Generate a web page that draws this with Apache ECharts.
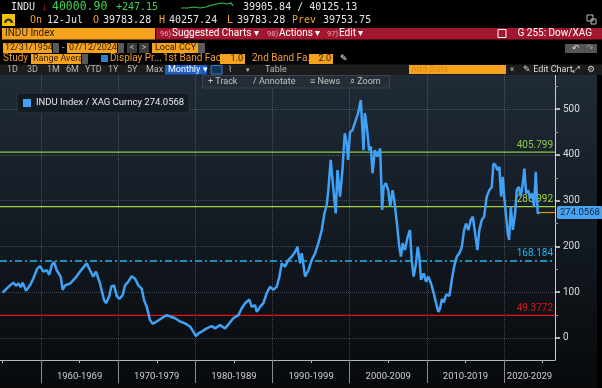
<!DOCTYPE html>
<html><head><meta charset="utf-8">
<script src="https://cdn.jsdelivr.net/npm/echarts@6/dist/echarts.min.js"></script>
<style>html,body{margin:0;padding:0;background:#000;}#c{width:602px;height:388px;}</style>
</head><body><div id="c"></div>
<script>
// ---- data ----
const dates = [1955.04,1955.55,1955.99,1956.42,1956.76,1957.07,1957.37,1957.63,1958.06,1958.58,1959.01,1959.53,1959.87,1960.31,1960.74,1961.08,1961.39,1961.69,1962.03,1962.55,1962.81,1963.11,1963.76,1964.41,1965.06,1965.92,1966.35,1966.78,1967.13,1967.65,1968.17,1968.43,1968.86,1969.1,1969.46,1969.81,1970.15,1970.59,1970.89,1971.32,1971.75,1972.18,1972.61,1973.05,1973.35,1973.7,1974.13,1974.48,1975.0,1975.64,1976.29,1976.72,1977.37,1978.01,1978.66,1979.31,1979.74,1980.09,1980.39,1980.83,1981.47,1982.12,1982.55,1983.2,1983.85,1984.4,1984.92,1985.57,1986.01,1986.44,1987.0,1987.31,1987.74,1987.96,1988.39,1988.82,1989.25,1989.68,1990.11,1990.55,1990.89,1991.19,1991.62,1992.05,1992.49,1992.92,1993.22,1993.57,1993.79,1994.22,1994.65,1995.08,1995.51,1995.94,1996.38,1996.72,1997.02,1997.23,1997.54,1997.89,1998.19,1998.41,1998.75,1999.06,1999.36,1999.62,1999.79,2000.05,2000.36,2000.79,2001.09,2001.44,2001.66,2001.79,2001.96,2002.22,2002.52,2002.74,2002.96,2003.26,2003.61,2003.95,2004.2,2004.39,2004.69,2004.99,2005.25,2005.56,2005.77,2006.12,2006.42,2006.64,2006.86,2007.16,2007.51,2007.81,2008.03,2008.29,2008.59,2008.81,2009.02,2009.24,2009.59,2009.89,2010.19,2010.54,2010.89,2011.19,2011.49,2011.71,2011.95,2012.2,2012.5,2012.92,2013.23,2013.53,2013.88,2014.21,2014.53,2014.82,2015.08,2015.38,2015.69,2015.95,2016.25,2016.54,2016.8,2017.11,2017.41,2017.76,2018.1,2018.41,2018.62,2018.88,2019.14,2019.39,2019.61,2019.83,2020.04,2020.26,2020.48,2020.65,2020.87,2021.13,2021.43,2021.65,2021.91,2022.17,2022.43,2022.63,2022.85,2023.11,2023.37,2023.63,2023.89,2024.11,2024.28,2024.37,2024.53];
const ratio = [99,108,115,121,114,119,111,121,103,115,130,152,157,145,148,138,159,166,148,134,105,115,119,130,145,163,148,134,145,119,83,76,92,112,115,92,85,94,115,123,135,130,115,108,83,68,39,31,36,43,50,47,43,36,32,25,14,4,10,14,21,26,21,28,21,32,43,50,65,76,84,68,72,57,68,76,98,112,105,112,134,163,156,170,178,188,199,163,185,134,148,170,185,207,236,272,290,323,389,323,272,367,309,367,447,425,389,450,454,476,491,520,523,410,491,461,410,418,360,410,396,414,280,330,338,323,287,323,301,250,199,178,207,192,221,236,170,134,163,199,178,127,141,123,134,119,98,76,57,65,85,78,95,92,127,156,178,185,199,236,250,236,258,265,229,192,236,258,265,309,323,330,381,378,367,374,309,352,305,301,229,214,287,236,272,323,330,309,338,370,316,323,305,316,287,363,301,272,274.0568];
const seriesName = 'INDU Index / XAG Curncy 274.0568';
const lastDate = 2024.53, lastValue = 274.0568;
const levelValues = [405.799, 286.992, 168.184, 49.3772];
const levelLabels = ['405.799', '286.992', '168.184', '49.3772'];
const yLabelValues = [0, 100, 200, 300, 400, 500];
const yMinorTicks = [50, 150, 250, 350, 450, 550];
const decadeStarts = [1960, 1970, 1980, 1990, 2000, 2010, 2020];
const midDecades = [1955, 1965, 1975, 1985, 1995, 2005, 2015, 2025];
const decadeLabelPos = [1965, 1975, 1985, 1995, 2005, 2015, 2023.3];
const xMin = 1954.69, xMax = 2026.6, yMin = -48.1, yMax = 574.5;

// ---- styles ----
const levelColors = ['#8ccc40', '#a2d23a', '#20b8ee', '#e0141e'];
const levelTypes = ['solid', 'solid', [7, 3, 2, 3], 'solid'];
const F = 'Roboto, "Liberation Sans", sans-serif';
const M = '"DejaVu Sans Mono", "Liberation Mono", monospace';
const OR = '#f5a31f', ORT = '#f0a030', RED = '#a3172e';

function txt(x, y, s, fill, font, align) {
  return {type: 'text', x: x, y: y, z: 20, silent: true,
    style: {text: s, fill: fill, font: font, align: align || 'left', verticalAlign: 'middle'}};
}
function box(x, y, w, h, fill, stroke, r) {
  return {type: 'rect', z: 15, silent: true, shape: {x: x, y: y, width: w, height: h, r: r || 0},
    style: {fill: fill, stroke: stroke || null, lineWidth: 1}};
}

const chart = echarts.init(document.getElementById('c'), null, {renderer: 'canvas'});
const f12 = '11.5px ' + M, f10 = '10px ' + M, s10 = '10px ' + F, s9 = '9px ' + F;

const graphics = [
  {type: 'rect', z: -10, silent: true, shape: {x: 0, y: 75, width: 597, height: 313},
    style: {fill: new echarts.graphic.LinearGradient(0, 0, 0, 1, [
      {offset: 0, color: '#202b37'}, {offset: 0.5, color: '#131a22'}, {offset: 1, color: '#07090b'}])}},
  // row 1
  txt(11, 7, 'INDU', '#e4e4e4', '10px ' + M),
  txt(42, 7, '↓', '#e8262b', 'bold 11px ' + F),
  txt(52, 7, '40000.90', '#3fd44a', f12),
  txt(116, 7, '+247.15', '#3fd44a', f10),
  {type: 'polyline', z: 20, silent: true, shape: {points: [[181,8],[188,8],[194,7],[200,8],[206,7],[212,5],[217,4],[222,3],[227,4],[231,3],[233,6]]},
    style: {stroke: '#32c24a', lineWidth: 1.2, fill: null}},
  txt(243, 7, '39905.84 / 40125.13', '#e4e4e4', f10),
  // row 2
  box(2, 14, 13, 12, '#f2c400'),
  {type: 'sector', z: 20, silent: true, shape: {cx: 8.5, cy: 23, r: 4.5, r0: 2.2, startAngle: Math.PI, endAngle: 2 * Math.PI}, style: {fill: '#333'}},
  txt(30, 20, 'On', ORT, f10),
  txt(47, 20, '12-Jul', '#e4e4e4', f10),
  txt(93, 20, 'O', ORT, f10), txt(103, 20, '39783.28', '#e4e4e4', f10),
  txt(159, 20, 'H', ORT, f10), txt(169, 20, '40257.24', '#e4e4e4', f10),
  txt(227, 20, 'L', ORT, f10), txt(237, 20, '39783.28', '#e4e4e4', f10),
  txt(292, 20, 'Prev', ORT, f10), txt(323, 20, '39753.75', '#e4e4e4', f10),
  box(587, 15, 6, 6, null, '#bbbbbb'), box(591, 19, 5, 5, null, '#bbbbbb'),
  // row 3
  box(2, 28, 153, 11.5, OR),
  txt(5, 33.8, 'INDU Index', '#2a1d08', s10),
  box(156, 28, 446, 11.5, RED),
  txt(160, 33.8, '96)', '#e7a9b3', '7.5px ' + F), txt(172, 33.8, 'Suggested Charts ▾', '#ffffff', s10),
  txt(267, 33.8, '98)', '#e7a9b3', '7.5px ' + F), txt(279, 33.8, 'Actions ▾', '#ffffff', s10),
  txt(327, 33.8, '97)', '#e7a9b3', '7.5px ' + F), txt(339, 33.8, 'Edit ▾', '#ffffff', s10),
  box(498, 29.5, 8, 8, null, '#ffffff'),
  txt(592, 33.8, 'G 255: Dow/XAG', '#ffffff', s10, 'right'),
  // row 4
  box(3, 43, 49, 10, OR), txt(5, 48.2, '12/31/1954', '#2a1d08', s9),
  box(53, 43, 6, 10, '#5a5a5a'),
  txt(62, 48, '-', '#cccccc', s9),
  box(67, 43, 50, 10, OR), txt(69, 48.2, '07/12/2024', '#2a1d08', s9),
  box(118, 43, 6, 10, '#5a5a5a'),
  box(127, 43, 10, 10, '#3c3c3c'), txt(132, 48, '<', '#bbbbbb', s9, 'center'),
  box(139, 43, 10, 10, '#3c3c3c'), txt(144, 48, '>', '#bbbbbb', s9, 'center'),
  box(152, 43, 46, 10, OR), txt(155, 48.2, 'Local CCY', '#2a1d08', s9),
  box(198, 43, 7, 10, '#5a5a5a'),
  box(565, 44, 32, 9, '#555555'), txt(572, 48.5, '↶', '#dddddd', s9), txt(586, 48.5, '↷', '#999999', s9),
  // row 5
  txt(3, 58.7, 'Study', ORT, s10),
  box(31, 54, 50, 10, OR), txt(33, 59, 'Range Avera', '#2a1d08', s9),
  box(82, 54, 6, 10, '#5a5a5a'),
  box(101, 55, 7, 7, '#2f7fd6'),
  txt(110, 58.7, 'Display Pr...', ORT, s10),
  txt(163, 58.7, '1st Band Fac...', ORT, s10),
  box(220, 54, 25, 10, OR), txt(243, 59, '1.0', '#2a1d08', s9, 'right'),
  txt(252, 58.7, '2nd Band Fa...', ORT, s10),
  box(309, 54, 24, 10, OR), txt(331, 59, '2.0', '#2a1d08', s9, 'right'),
  txt(340, 58.7, '✎', '#ffffff', s9),
  // row 6
  box(0, 64.5, 602, 10.5, '#1c1c1c'),
  txt(7, 69.8, '1D', '#b8b8b8', s9), txt(27, 69.8, '3D', '#b8b8b8', s9), txt(47, 69.8, '1M', '#b8b8b8', s9),
  txt(66, 69.8, '6M', '#b8b8b8', s9), txt(85, 69.8, 'YTD', '#b8b8b8', s9), txt(108, 69.8, '1Y', '#b8b8b8', s9),
  txt(127, 69.8, '5Y', '#b8b8b8', s9), txt(146, 69.8, 'Max', '#b8b8b8', s9),
  box(165, 65, 42, 9.5, '#1f5fc4'), txt(168, 69.8, 'Monthly ▾', '#ffffff', s9),
  box(211, 65.5, 11, 8.5, '#18325a', '#2f7fd6'),
  txt(228, 69.8, '⌇', '#b8b8b8', s9), txt(246, 69.8, '▾', '#b8b8b8', '7px ' + F),
  txt(265, 69.8, 'Table', '#b8b8b8', s9),
  box(409, 65, 97, 9, OR), txt(411, 69.8, 'Add Data', '#d98a10', s9),
  txt(510, 69.6, '«', '#cccccc', s9), txt(523, 69.8, '✎ Edit Chart', '#dddddd', s9),
  txt(573, 69.8, '⤢', '#cccccc', s9), txt(587, 69.8, '⚙', '#cccccc', s9),
  // chart toolbar
  box(202.5, 75.5, 187, 12.5, '#252d36', '#3b444f'),
  txt(208, 81.5, '+ Track', '#c4c4c4', s9), txt(253, 81.5, '/ Annotate', '#c4c4c4', s9),
  txt(310, 81.5, '≡ News', '#c4c4c4', s9), txt(350, 81.5, '⌕ Zoom', '#c4c4c4', s9)
];

// each level drawn as a flat line series across the x extent; its label via a transparent markLine
const levelSeries = levelValues.map((v, i) => ({
  name: 'level' + i, type: 'line', xAxisIndex: 0, yAxisIndex: 0, z: 1,
  data: [[xMin, v], [xMax, v]],
  showSymbol: false, symbol: 'none', silent: true,
  lineStyle: {color: levelColors[i], width: 1.3, type: levelTypes[i]},
  itemStyle: {color: levelColors[i]},
  markLine: {
    silent: true, symbol: 'none', z: 2, animation: false,
    lineStyle: {color: 'rgba(0,0,0,0)', width: 0},
    label: {show: true, position: 'insideEndTop', formatter: levelLabels[i], color: levelColors[i],
      fontSize: 10, fontFamily: F, distance: 2, opacity: 1},
    data: [{yAxis: v}]
  }
}));

const option = {
  animation: false,
  backgroundColor: '#000',
  grid: {left: 0, right: 47, top: 75, bottom: 28},
  legend: {
    data: [seriesName], left: 17, top: 93, selectedMode: false,
    backgroundColor: '#141b23', borderColor: '#2c3641', borderWidth: 1, borderRadius: 3,
    padding: [5, 5, 5, 6], itemWidth: 8, itemHeight: 8, icon: 'rect', itemGap: 3,
    textStyle: {color: '#e8e8e8', fontSize: 9.5, fontFamily: F}
  },
  xAxis: [{
    type: 'value', min: xMin, max: xMax, position: 'bottom',
    axisLine: {show: true, onZero: false, lineStyle: {color: '#b5b5b5', width: 1}},
    axisTick: {show: true, customValues: midDecades, length: 3, lineStyle: {color: '#b5b5b5'}},
    axisLabel: {show: true, customValues: decadeLabelPos, color: '#cfcfcf', fontSize: 9.5, fontFamily: F, margin: 12,
      formatter: v => { const d = Math.floor(v / 10) * 10; return d + '-' + (d + 9); }},
    splitLine: {show: false}
  }, {
    type: 'value', min: xMin, max: xMax, position: 'bottom',
    axisLine: {show: false, onZero: false},
    axisTick: {show: true, customValues: decadeStarts, length: 23, lineStyle: {color: '#8c8c8c'}},
    axisLabel: {show: false},
    splitLine: {show: true, lineStyle: {color: 'rgba(160,170,180,0.35)', type: 'dotted', width: 1}}
  }],
  yAxis: [{
    type: 'value', min: yMin, max: yMax, position: 'right',
    axisLine: {show: true, onZero: false, lineStyle: {color: '#cfcfcf', width: 1}},
    axisTick: {show: true, customValues: yLabelValues, length: 5, lineStyle: {color: '#e6e6e6', width: 1.5}},
    axisLabel: {show: true, customValues: yLabelValues, color: '#dcdcdc', fontSize: 10, fontFamily: F, margin: 8},
    splitLine: {show: true, lineStyle: {color: 'rgba(160,170,180,0.35)', type: 'dotted', width: 1}}
  }, {
    type: 'value', min: yMin, max: yMax, position: 'right',
    axisLine: {show: false, onZero: false},
    axisTick: {show: true, customValues: yMinorTicks, length: 3, lineStyle: {color: '#9a9a9a'}},
    axisLabel: {show: false}, splitLine: {show: false}
  }],
  series: levelSeries.concat([{
    name: seriesName, type: 'line', xAxisIndex: 0, yAxisIndex: 0, z: 3,
    data: dates.map((d, i) => [d, ratio[i]]),
    showSymbol: false, symbol: 'none',
    lineStyle: {color: '#3fa2f7', width: 2.5},
    itemStyle: {color: '#3fa2f7'},
    markLine: {silent: true, symbol: 'none', z: 4, animation: false,
      data: [[{coord: [lastDate, lastValue]}, {coord: [xMax, lastValue]}]],
      lineStyle: {color: '#e0901c', width: 1.2, type: 'solid'},
      label: {show: true, position: 'end', distance: 2, formatter: '274.0568', color: '#0d2a48',
        backgroundColor: '#4aa3ee', padding: [2, 3, 1, 3], borderRadius: 2, fontSize: 9.5, fontFamily: F}}
  }]),
  graphic: {elements: graphics}
};
chart.setOption(option);
</script></body></html>
